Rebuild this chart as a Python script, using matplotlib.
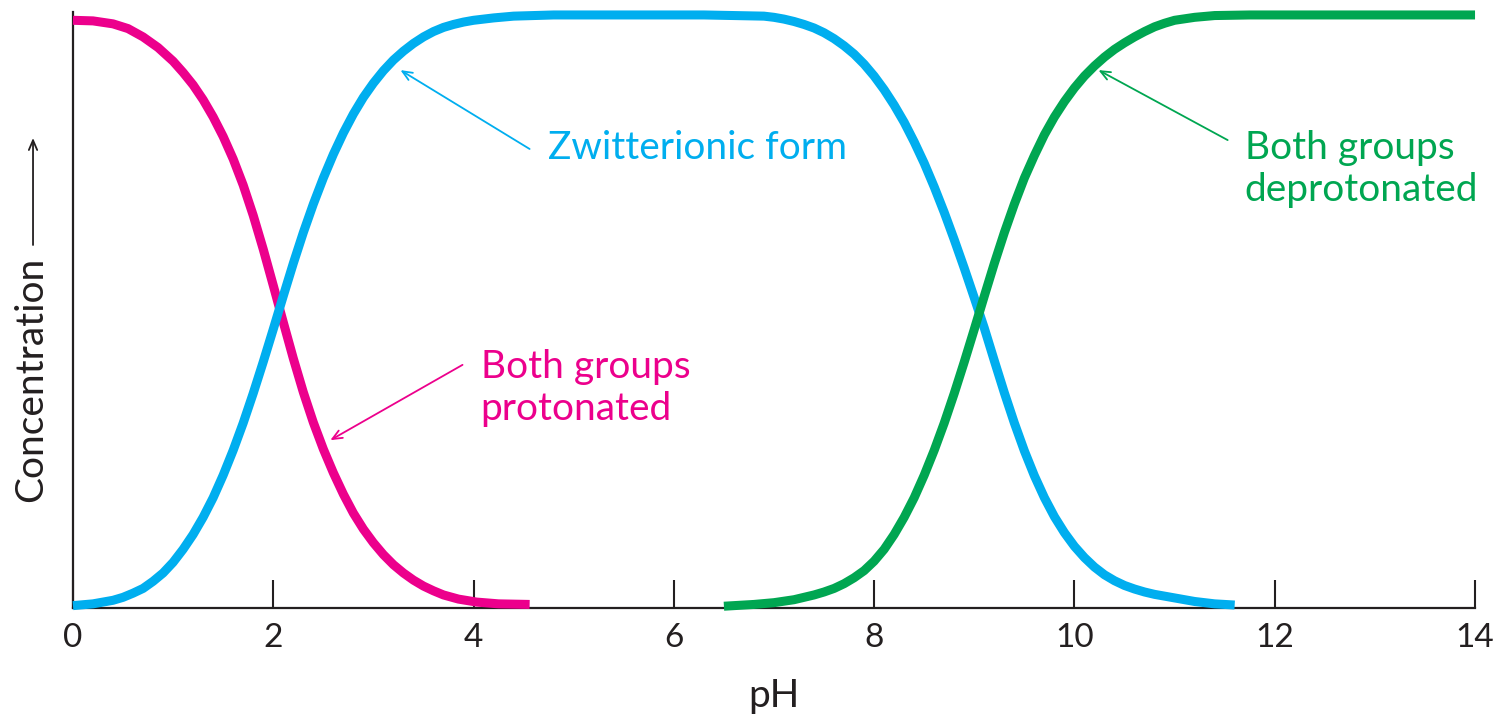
import matplotlib
matplotlib.use("Agg")
import matplotlib.pyplot as plt

# concentration (fraction of total) at each pH
ph_protonated = [0.0, 0.2, 0.4, 0.55, 0.7, 0.85, 1.0, 1.1, 1.2, 1.3, 1.4, 1.5,
                 1.6, 1.7, 1.8, 1.9, 2.0, 2.1, 2.2, 2.3, 2.4, 2.5, 2.6, 2.7,
                 2.8, 2.9, 3.0, 3.1, 3.2, 3.3, 3.4, 3.5, 3.6, 3.7, 3.85, 4.03,
                 4.25, 4.56]
conc_protonated = [0.991, 0.990, 0.985, 0.977, 0.963, 0.945, 0.922, 0.903, 0.882,
                   0.857, 0.828, 0.795, 0.757, 0.713, 0.662, 0.605, 0.544, 0.482,
                   0.421, 0.364, 0.313, 0.268, 0.228, 0.192, 0.160, 0.133, 0.110,
                   0.090, 0.073, 0.059, 0.047, 0.037, 0.029, 0.022, 0.015, 0.010,
                   0.007, 0.006]

ph_zwitter = [0.0, 0.2, 0.4, 0.5, 0.6, 0.7, 0.8, 0.9, 1.0, 1.1, 1.2, 1.3, 1.4,
              1.5, 1.6, 1.7, 1.8, 1.9, 2.0, 2.1, 2.2, 2.3, 2.4, 2.5, 2.6, 2.7,
              2.8, 2.9, 3.0, 3.1, 3.2, 3.3, 3.4, 3.5, 3.6, 3.7, 3.8, 3.9, 4.0,
              4.2, 4.4, 4.8, 6.3, 6.6, 6.9, 7.0, 7.1, 7.2, 7.3, 7.4, 7.5, 7.6,
              7.7, 7.8, 7.9, 8.0, 8.1, 8.2, 8.3, 8.4, 8.5, 8.6, 8.7, 8.8, 8.9,
              9.0, 9.1, 9.2, 9.3, 9.4, 9.5, 9.6, 9.7, 9.8, 9.9, 10.0, 10.1,
              10.2, 10.3, 10.4, 10.5, 10.6, 10.7, 10.8, 10.9, 11.0, 11.2, 11.4,
              11.6]
conc_zwitter = [0.004, 0.007, 0.013, 0.018, 0.025, 0.033, 0.045, 0.059, 0.077,
                0.099, 0.124, 0.153, 0.186, 0.224, 0.266, 0.312, 0.362, 0.415,
                0.470, 0.526, 0.581, 0.633, 0.681, 0.725, 0.765, 0.801, 0.833,
                0.861, 0.885, 0.906, 0.924, 0.939, 0.952, 0.963, 0.972, 0.979,
                0.984, 0.988, 0.991, 0.995, 0.998, 1.0, 1.0, 0.999, 0.998,
                0.996, 0.993, 0.989, 0.984, 0.978, 0.970, 0.960, 0.948, 0.934,
                0.917, 0.897, 0.874, 0.848, 0.819, 0.786, 0.750, 0.710, 0.667,
                0.621, 0.573, 0.523, 0.472, 0.417, 0.363, 0.312, 0.265, 0.223,
                0.186, 0.154, 0.127, 0.104, 0.085, 0.069, 0.056, 0.046, 0.038,
                0.032, 0.027, 0.023, 0.020, 0.017, 0.011, 0.007, 0.005]

ph_deprotonated = [6.5, 6.8, 7.0, 7.2, 7.4, 7.5, 7.6, 7.7, 7.8, 7.9, 8.0, 8.1,
                   8.2, 8.3, 8.4, 8.5, 8.6, 8.7, 8.8, 8.9, 9.0, 9.1, 9.2, 9.3,
                   9.4, 9.5, 9.6, 9.7, 9.8, 9.9, 10.0, 10.1, 10.2, 10.3, 10.4,
                   10.5, 10.6, 10.7, 10.8, 10.9, 11.0, 11.2, 11.4, 11.75, 14.0]
conc_deprotonated = [0.003, 0.006, 0.009, 0.014, 0.022, 0.027, 0.033, 0.041,
                     0.051, 0.063, 0.079, 0.099, 0.124, 0.153, 0.186, 0.224,
                     0.266, 0.312, 0.362, 0.415, 0.470, 0.526, 0.581, 0.633,
                     0.681, 0.725, 0.763, 0.798, 0.828, 0.854, 0.877, 0.897,
                     0.914, 0.929, 0.942, 0.953, 0.963, 0.972, 0.980, 0.986,
                     0.991, 0.996, 0.999, 1.0, 1.0]

ph_ticks = [0, 2, 4, 6, 8, 10, 12, 14]

MAGENTA = "#EC008C"
CYAN = "#00AEEF"
GREEN = "#00A651"
DARK = "#231F20"
FONT = "Lato"

fig = plt.figure(figsize=(15.01, 7.18), dpi=100)
ax = fig.add_axes([0.0486, 0.1532, 0.9341, 0.8301])

lw = 6.5
for ph, conc, col in [(ph_protonated, conc_protonated, MAGENTA),
                      (ph_zwitter, conc_zwitter, CYAN),
                      (ph_deprotonated, conc_deprotonated, GREEN)]:
    ax.plot(ph, conc, color=col, lw=lw, solid_capstyle="butt",
            solid_joinstyle="round", clip_on=False, zorder=3)

ax.set_xlim(0, 14)
ax.set_ylim(0, 1.005)
for side in ("top", "right"):
    ax.spines[side].set_visible(False)
for side in ("left", "bottom"):
    ax.spines[side].set_linewidth(1.6)
    ax.spines[side].set_color(DARK)

ax.set_yticks([])
ax.set_xticks(ph_ticks)
ax.set_xticklabels([str(t) for t in ph_ticks], family=FONT,
                   fontsize=24, color=DARK)
ax.tick_params(axis="x", direction="in", length=20, width=1.5, color=DARK, pad=11)

ax.set_xlabel("pH", family=FONT, fontsize=28, color=DARK, labelpad=18)

fig.text(0.021, 0.471, "Concentration", rotation=90, ha="center", va="center",
         family=FONT, fontsize=28, color=DARK)
ax.annotate("", xy=(0.022, 1 - 138 / 718), xytext=(0.022, 1 - 245 / 718),
            xycoords="figure fraction", textcoords="figure fraction",
            arrowprops=dict(arrowstyle="->,head_length=0.7,head_width=0.3",
                            color=DARK, lw=1.3, shrinkA=0, shrinkB=0))

# labels and pointer arrows
arrow_style = "->,head_length=0.7,head_width=0.3"
ax.annotate("", xy=(3.27, 0.907), xytext=(4.56, 0.774),
            arrowprops=dict(arrowstyle=arrow_style, color=CYAN, lw=1.3,
                            shrinkA=0, shrinkB=0))
ax.text(4.74, 0.776, "Zwitterionic form", color=CYAN, family=FONT,
        fontsize=28, ha="left", va="center")

ax.annotate("", xy=(2.57, 0.283), xytext=(3.89, 0.41),
            arrowprops=dict(arrowstyle=arrow_style, color=MAGENTA, lw=1.3,
                            shrinkA=0, shrinkB=0))
ax.text(4.07, 0.371, "Both groups\nprotonated", color=MAGENTA, family=FONT,
        fontsize=28, ha="left", va="center", linespacing=1.2)

ax.annotate("", xy=(10.24, 0.907), xytext=(11.53, 0.789),
            arrowprops=dict(arrowstyle=arrow_style, color=GREEN, lw=1.3,
                            shrinkA=0, shrinkB=0))
ax.text(11.70, 0.740, "Both groups\ndeprotonated", color=GREEN, family=FONT,
        fontsize=28, ha="left", va="center", linespacing=1.2)

fig.savefig("out.png", dpi=100)
